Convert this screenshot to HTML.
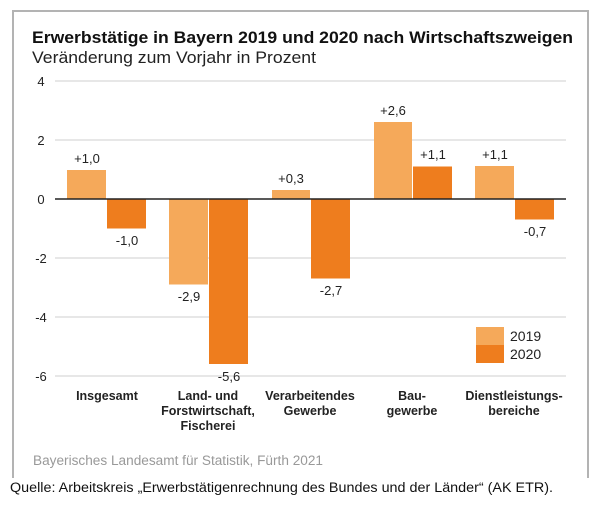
<!DOCTYPE html>
<html><head><meta charset="utf-8"><style>
body{margin:0;background:#fff;}
svg text{font-family:"Liberation Sans",Arial,sans-serif;}
</style></head><body>
<svg width="600" height="506" xmlns="http://www.w3.org/2000/svg">
<path d="M13 478 V11 H588 V478" fill="none" stroke="#b3b3b3" stroke-width="2"/>
<text x="32" y="43" font-size="17" font-weight="bold" fill="#111" textLength="541" lengthAdjust="spacingAndGlyphs">Erwerbstätige in Bayern 2019 und 2020 nach Wirtschaftszweigen</text>
<text x="32" y="63" font-size="16.5" fill="#222" textLength="284" lengthAdjust="spacingAndGlyphs">Veränderung zum Vorjahr in Prozent</text>
<g stroke="#cfcfcf" stroke-width="1">
<line x1="55" x2="566" y1="81" y2="81"/><line x1="55" x2="566" y1="140" y2="140"/>
<line x1="55" x2="566" y1="258" y2="258"/><line x1="55" x2="566" y1="317" y2="317"/>
<line x1="55" x2="566" y1="376" y2="376"/>
</g>
<g font-size="13" fill="#222" text-anchor="middle">
<text x="41" y="86">4</text><text x="41" y="145">2</text><text x="41" y="204">0</text>
<text x="41" y="263">-2</text><text x="41" y="322">-4</text><text x="41" y="381">-6</text>
</g>
<g fill="#f5a95a">
<rect x="67" y="170" width="39" height="29.5"/>
<rect x="169" y="199" width="39" height="85.5"/>
<rect x="272" y="190" width="38" height="9"/>
<rect x="374" y="122" width="38" height="77"/>
<rect x="475" y="166" width="39" height="33"/>
</g>
<g fill="#ee7d1e">
<rect x="107" y="199" width="39" height="29.5"/>
<rect x="209" y="199" width="39" height="165"/>
<rect x="311" y="199" width="39" height="79.5"/>
<rect x="413" y="166.5" width="39" height="32.5"/>
<rect x="515" y="199" width="39" height="20.5"/>
</g>
<line x1="55" x2="566" y1="199" y2="199" stroke="#222" stroke-width="1.5"/>
<g font-size="13" fill="#222" text-anchor="middle">
<text x="87" y="163">+1,0</text><text x="127" y="245">-1,0</text>
<text x="189" y="301">-2,9</text><text x="229" y="381">-5,6</text>
<text x="291" y="183">+0,3</text><text x="331" y="295">-2,7</text>
<text x="393" y="115">+2,6</text><text x="433" y="159">+1,1</text>
<text x="495" y="159">+1,1</text><text x="535" y="236">-0,7</text>
</g>
<rect x="476" y="327" width="28" height="18" fill="#f5a95a"/>
<rect x="476" y="345" width="28" height="18" fill="#ee7d1e"/>
<text x="510" y="341" font-size="14" fill="#222">2019</text>
<text x="510" y="359" font-size="14" fill="#222">2020</text>
<g font-size="12.5" font-weight="bold" fill="#222" text-anchor="middle">
<text x="107" y="400">Insgesamt</text>
<text x="208" y="400">Land- und</text><text x="208" y="415">Forstwirtschaft,</text><text x="208" y="430">Fischerei</text>
<text x="310" y="400">Verarbeitendes</text><text x="310" y="415">Gewerbe</text>
<text x="412" y="400">Bau-</text><text x="412" y="415">gewerbe</text>
<text x="514" y="400">Dienstleistungs-</text><text x="514" y="415">bereiche</text>
</g>
<text x="33" y="465" font-size="13.5" fill="#999" textLength="290" lengthAdjust="spacingAndGlyphs">Bayerisches Landesamt für Statistik, Fürth 2021</text>
<text x="10" y="492" font-size="13.5" fill="#111" textLength="543" lengthAdjust="spacingAndGlyphs">Quelle: Arbeitskreis „Erwerbstätigenrechnung des Bundes und der Länder“ (AK ETR).</text>
</svg>
</body></html>
